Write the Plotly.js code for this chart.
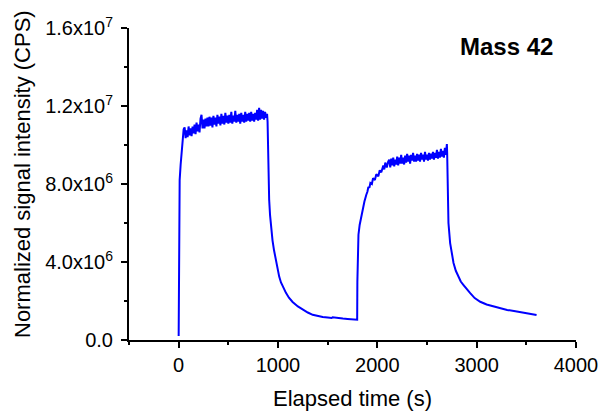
<!DOCTYPE html>
<html>
<head>
<meta charset="utf-8">
<script src="https://cdn.plot.ly/plotly-3.0.1.min.js"></script>
<style>html,body{margin:0;padding:0;background:#fff;}#chart{width:606px;height:412px;}</style>
</head>
<body>
<div id="chart"></div>
<script>
// Elapsed time (s)
var timeS = [
  0, 3, 10, 20, 35, 50,
  60, 70, 80, 90, 100, 110, 120, 130, 140, 150, 160, 170, 180, 190,
  200, 210, 220, 230, 240, 250, 260, 270, 280, 290,
  300, 310, 320, 330, 340, 350, 360, 370, 380, 390,
  400, 410, 420, 430, 440, 450, 460, 470, 480, 490,
  500, 510, 520, 530, 540, 550, 560, 570, 580, 590,
  600, 610, 620, 630, 640, 650, 660, 670, 680, 690,
  700, 710, 720, 730, 740, 750, 760, 770, 780, 790,
  800, 810, 820, 830, 840, 850, 860, 870, 880, 890,
  895, 900, 905, 911, 920, 930, 945, 960, 978, 995, 1012, 1030, 1050, 1080, 1110, 1147,
  1200, 1248, 1300, 1349, 1400, 1450, 1500, 1540, 1550, 1600, 1653, 1700, 1750, 1790, 1797,
  1799, 1802, 1810, 1822, 1839, 1856, 1870, 1889, 1900, 1910, 1920, 1930, 1945, 1957, 1975, 1990, 2010, 2024,
  2040, 2060, 2070, 2080, 2095, 2109,
  2120, 2130, 2140, 2150, 2160, 2170, 2180, 2190,
  2200, 2210, 2220, 2230, 2240, 2250, 2260, 2270, 2280, 2290,
  2300, 2310, 2320, 2330, 2340, 2350, 2360, 2370, 2380, 2390,
  2400, 2410, 2420, 2430, 2440, 2450, 2460, 2470, 2480, 2490,
  2500, 2510, 2520, 2530, 2540, 2550, 2560, 2570, 2580, 2590,
  2600, 2610, 2620, 2630, 2640, 2650, 2660, 2670, 2680, 2690, 2700,
  2703, 2708, 2716, 2733, 2750, 2767, 2790, 2817, 2840, 2868, 2900, 2935, 2980, 3036,
  3100, 3171, 3240, 3307, 3390, 3475, 3540, 3603
];
// Normalized signal intensity (millions of CPS)
var signalM = [
  0.2, 5.5, 8.2, 9.0, 9.8, 10.8,
  10.9, 10.35, 10.75, 10.4, 10.95, 10.5, 10.85, 10.45, 10.95, 10.6, 11.05, 10.55, 11.15, 10.7,
  11.05, 10.65, 11.35, 11.55, 10.85, 11.3, 10.85, 11.35, 10.95, 11.4,
  10.95, 11.45, 11.0, 11.4, 10.9, 11.5, 11.05, 11.4, 10.95, 11.55,
  11.1, 11.45, 11.0, 11.6, 11.1, 11.5, 11.05, 11.65, 11.15, 11.5,
  11.1, 11.55, 11.15, 11.7, 11.1, 11.5, 11.2, 11.75, 11.15, 11.55,
  11.2, 11.6, 11.1, 11.65, 11.2, 11.55, 11.15, 11.7, 11.2, 11.6,
  11.25, 11.65, 11.2, 11.7, 11.25, 11.6, 11.2, 11.65, 11.3, 11.8,
  11.25, 11.9, 11.3, 11.8, 11.35, 11.75, 11.3, 11.7, 11.4, 11.6,
  11.2, 9.6, 8.3, 7.2, 6.4, 5.8, 5.1, 4.6, 4.12, 3.65, 3.25, 2.95, 2.7, 2.42, 2.17, 1.95,
  1.72, 1.55, 1.41, 1.29, 1.22, 1.18, 1.15, 1.13, 1.17, 1.12, 1.1, 1.08, 1.07, 1.05, 1.04,
  3.0, 4.8, 5.4, 5.9, 6.4, 6.8, 7.1, 7.45, 7.6, 7.85, 7.8, 8.05, 8.0, 8.3, 8.2, 8.5, 8.4, 8.7,
  8.6, 8.95, 8.75, 9.1, 8.85, 9.15,
  9.25, 8.85, 9.3, 8.95, 9.35, 8.9, 9.25, 9.0,
  9.4, 8.95, 9.35, 9.05, 9.5, 9.05, 9.35, 9.0, 9.45, 9.1,
  9.55, 9.15, 9.45, 9.05, 9.5, 9.2, 9.6, 9.15, 9.45, 9.15,
  9.55, 9.2, 9.5, 9.15, 9.6, 9.25, 9.5, 9.15, 9.65, 9.25,
  9.5, 9.2, 9.6, 9.25, 9.55, 9.3, 9.65, 9.25, 9.6, 9.35,
  9.75, 9.3, 9.65, 9.35, 9.8, 9.4, 9.7, 9.35, 9.85, 9.5, 10.05,
  9.6, 7.35, 6.0, 4.97, 4.4, 3.95, 3.55, 3.25, 3.0, 2.82, 2.6, 2.4, 2.15, 1.96,
  1.82, 1.71, 1.62, 1.54, 1.47, 1.4, 1.34, 1.28
];
var yTickVals = [0, 4, 8, 12, 16];
var yTickText = ["0.0", "4.0x10<sup>6</sup>", "8.0x10<sup>6</sup>", "1.2x10<sup>7</sup>", "1.6x10<sup>7</sup>"];
var yMinorVals = [2, 6, 10, 14];
var xTickVals = [0, 1000, 2000, 3000, 4000];
var xTickText = ["0", "1000", "2000", "3000", "4000"];
var xMinorVals = [-500, 500, 1500, 2500, 3500];

var font = "Arial, 'Liberation Sans', sans-serif";
var trace = {
  x: timeS, y: signalM, type: "scatter", mode: "lines",
  line: {color: "#0000ff", width: 2},
  hoverinfo: "skip"
};
var layout = {
  width: 606, height: 412,
  margin: {l: 129, r: 30, t: 28, b: 72, pad: 0},
  paper_bgcolor: "#ffffff", plot_bgcolor: "#ffffff",
  showlegend: false,
  font: {family: font, color: "#000000", size: 20},
  xaxis: {
    range: [-500, 4000], tickmode: "array", tickvals: xTickVals, ticktext: xTickText,
    showline: true, linecolor: "#000", linewidth: 2, mirror: false,
    ticks: "outside", ticklen: 6, tickwidth: 2, tickcolor: "#000",
    showgrid: false, zeroline: false,
    tickfont: {family: font, size: 20, color: "#000"},
    minor: {tickmode: "array", tickvals: xMinorVals, ticks: "outside", ticklen: 3, tickwidth: 2, tickcolor: "#000", showgrid: false},
    title: {text: "Elapsed time (s)", font: {family: font, size: 22, color: "#000"}, standoff: 16}
  },
  yaxis: {
    range: [0, 16], tickmode: "array", tickvals: yTickVals, ticktext: yTickText,
    showline: true, linecolor: "#000", linewidth: 2, mirror: false,
    ticks: "outside", ticklen: 6, tickwidth: 2, tickcolor: "#000",
    showgrid: false, zeroline: false,
    tickfont: {family: font, size: 20, color: "#000"},
    ticklabelstandoff: 4,
    minor: {tickmode: "array", tickvals: yMinorVals, ticks: "outside", ticklen: 3, tickwidth: 2, tickcolor: "#000", showgrid: false}
  },
  annotations: [{
    text: "<b>Mass 42</b>", xref: "paper", yref: "paper",
    x: 0.845, y: 0.94, xanchor: "center", yanchor: "middle",
    showarrow: false, font: {family: font, size: 24, color: "#000"}
  }, {
    text: "Normalized signal intensity (CPS)", xref: "paper", yref: "paper",
    x: -0.2394, y: 0.532, xanchor: "center", yanchor: "middle", textangle: -90,
    showarrow: false, font: {family: font, size: 22, color: "#000"}
  }]
};
Plotly.newPlot("chart", [trace], layout, {staticPlot: true, displayModeBar: false});
</script>
</body>
</html>
